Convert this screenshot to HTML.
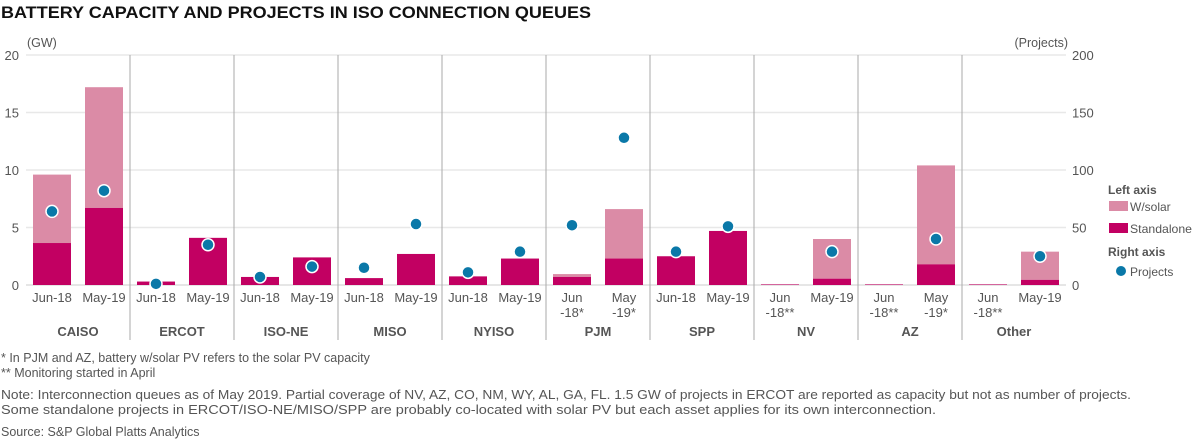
<!DOCTYPE html>
<html><head><meta charset="utf-8"><style>
body{margin:0;background:#fff;}
svg{display:block;font-family:"Liberation Sans",sans-serif;}
</style></head><body>
<svg id="chart" width="1201" height="441" viewBox="0 0 1201 441">
<text x="1" y="18" font-size="17" font-weight="bold" fill="#111" textLength="590" lengthAdjust="spacingAndGlyphs">BATTERY CAPACITY AND PROJECTS IN ISO CONNECTION QUEUES</text>
<text x="27" y="47" font-size="12.5" fill="#555">(GW)</text>
<text x="1068" y="47" font-size="12.5" fill="#555" text-anchor="end">(Projects)</text>
<g id="grid"></g>
<g id="bars"></g>
<g id="dots"></g>
<g id="labels"></g>
<g>
<text x="1108" y="194" font-size="12" font-weight="bold" fill="#555">Left axis</text>
<rect x="1109" y="201" width="19" height="10" fill="#db8ba6"/>
<text x="1130" y="211" font-size="12" fill="#555">W/solar</text>
<rect x="1109" y="223" width="19" height="10" fill="#c20062"/>
<text x="1130" y="233" font-size="12" fill="#555" textLength="62" lengthAdjust="spacingAndGlyphs">Standalone</text>
<text x="1108" y="256" font-size="12" font-weight="bold" fill="#555">Right axis</text>
<circle cx="1121" cy="271" r="5" fill="#0a78a8"/>
<text x="1130" y="276" font-size="12" fill="#555">Projects</text>
</g>
<g font-size="12.5" fill="#555">
<text x="1" y="362">* In PJM and AZ, battery w/solar PV refers to the solar PV capacity</text>
<text x="1" y="377">** Monitoring started in April</text>
<text x="1" y="399" textLength="1130" lengthAdjust="spacingAndGlyphs">Note: Interconnection queues as of May 2019. Partial coverage of NV, AZ, CO, NM, WY, AL, GA, FL. 1.5 GW of projects in ERCOT are reported as capacity but not as number of projects.</text>
<text x="1" y="414" textLength="935" lengthAdjust="spacingAndGlyphs">Some standalone projects in ERCOT/ISO-NE/MISO/SPP are probably co-located with solar PV but each asset applies for its own interconnection.</text>
<text x="1" y="436">Source: S&amp;P Global Platts Analytics</text>
</g>
</svg>
<script>
const groups = ["CAISO","ERCOT","ISO-NE","MISO","NYISO","PJM","SPP","NV","AZ","Other"];
const periodJun = ["Jun-18","Jun-18","Jun-18","Jun-18","Jun-18","Jun|-18*","Jun-18","Jun|-18**","Jun|-18**","Jun|-18**"];
const periodMay = ["May-19","May-19","May-19","May-19","May-19","May|-19*","May-19","May-19","May|-19*","May-19"];
const totalJun = [9.6,0.3,0.7,0.6,0.75,0.95,2.5,0.05,0.05,0.05];
const standJun = [3.65,0.3,0.7,0.6,0.75,0.7,2.5,0.05,0.05,0.05];
const totalMay = [17.2,4.1,2.4,2.7,2.3,6.6,4.7,4.0,10.4,2.9];
const standMay = [6.7,4.1,2.4,2.7,2.3,2.3,4.7,0.55,1.8,0.45];
const projJun = [64,1,7,15,11,52,29,null,null,null];
const projMay = [82,35,16,53,29,128,51,29,40,25];
const leftTicks = [0,5,10,15,20];
const rightTicks = [0,50,100,150,200];

const NS="http://www.w3.org/2000/svg";
const X0=26, GW=104, Y0=285, PH=230;
const yL=v=>Y0-v/20*PH, yR=v=>Y0-v/200*PH;
const gx=i=>X0+i*GW;
function mk(tag,attrs,parent,txt){const e=document.createElementNS(NS,tag);for(const k in attrs)e.setAttribute(k,attrs[k]);if(txt!=null)e.textContent=txt;document.getElementById(parent).appendChild(e);return e;}

leftTicks.forEach((t,i)=>{
  const l=mk('line',{x1:X0,x2:X0+GW*groups.length,y1:yL(t),y2:yL(t),stroke:i==0?'#ddd':'#e8e8e8','stroke-width':1.5},'grid');
  
  
  const a=mk('text',{x:19,y:yL(t)+5,'font-size':13,fill:'#555','text-anchor':'end'},'grid',t);
  
  
});
rightTicks.forEach(t=>{
  const a=mk('text',{x:1072,y:yR(t)+5,'font-size':13,fill:'#555'},'grid',t);
  
  
});
for(let i=1;i<groups.length;i++){
  const d=mk('line',{x1:gx(i),x2:gx(i),y1:55,y2:340,stroke:'#aaa','stroke-width':1},'grid');
  
  
}
function bar(cx,tot,st){
  const w=38;
  const r1=mk('rect',{x:cx-w/2,y:yL(tot),width:w,height:yL(st)-yL(tot),fill:'#db8ba6'},'bars');
  
  
  const r2=mk('rect',{x:cx-w/2,y:yL(st),width:w,height:Y0-yL(st),fill:'#c20062'},'bars');
  
  
}
function dot(cx,v){
  if(v==null)return;
  const c=mk('circle',{cx:cx,cy:yR(v),r:6,fill:'#0a78a8',stroke:'#fff','stroke-width':1.5},'dots');
  
  
}
function lab(cx,s){
  const parts=s.split('|');
  parts.forEach((p,k)=>{
    const t=mk('text',{x:cx,y:302+k*15,'font-size':13,fill:'#555','text-anchor':'middle'},'labels',p);
    
    
  });
}
groups.forEach((g,i)=>{
  const c1=gx(i)+26, c2=gx(i)+78;
  bar(c1,totalJun[i],standJun[i]);
  bar(c2,totalMay[i],standMay[i]);
  dot(c1,projJun[i]); dot(c2,projMay[i]);
  lab(c1,periodJun[i]); lab(c2,periodMay[i]);
  const t=mk('text',{x:gx(i)+GW/2,y:336,'font-size':13,'font-weight':'bold',fill:'#555','text-anchor':'middle'},'labels',g);
  
  
});
</script>
</body></html>
